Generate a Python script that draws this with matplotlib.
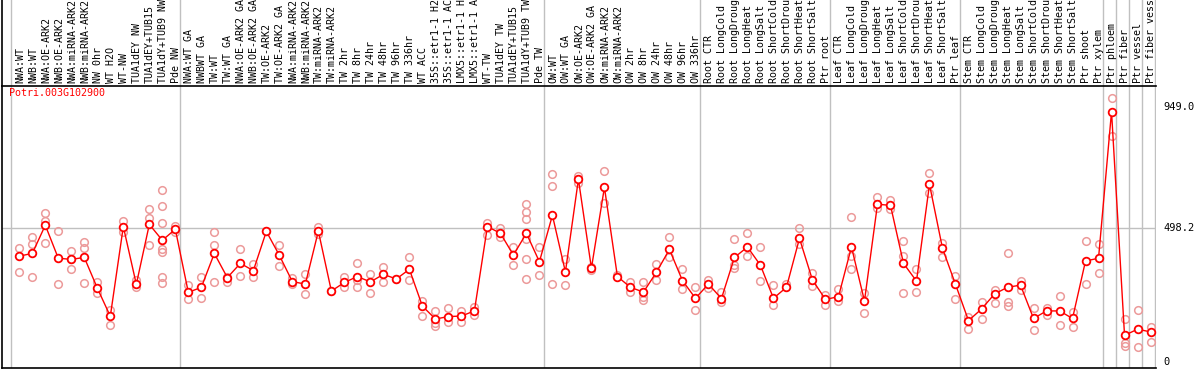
import numpy as np
import matplotlib.pyplot as plt

# column labels (as visible in the header)
labels = [
    "NWA:WT", "NWB:WT", "NWA:OE-ARK2", "NWB:OE-ARK2", "NWA:miRNA-ARK2", "NWB:miRNA-ARK2",
    "NW 0hr", "WT H2O", "WT-NW", "TUA1dEY NW", "TUA1dEY+TUB15", "TUA1dY+TUB9 NW", "Pde NW",
    "NWA:WT GA", "NWBWT GA", "TW:WT", "TW:WT GA", "NWA:OE-ARK2 GA", "NWB:OE-ARK2 GA",
    "TW:OE-ARK2", "TW:OE-ARK2 GA", "NWA:miRNA-ARK2", "NWB:miRNA-ARK2", "TW:miRNA-ARK2",
    "TW:miRNA-ARK2", "TW 2hr", "TW 8hr", "TW 24hr", "TW 48hr", "TW 96hr", "TW 336hr",
    "WT ACC", "35S::etr1-1 H2", "35S::etr1-1 AC", "LMX5::etr1-1 H", "LMX5::etr1-1 A",
    "WT-TW", "TUA1dEY TW", "TUA1dEY+TUB15", "TUA1dY+TUB9 TW", "Pde TW",
    "OW:WT", "OW:WT GA", "OW:OE-ARK2", "OW:OE-ARK2 GA", "OW:miRNA-ARK2", "OW:miRNA-ARK2",
    "OW 2hr", "OW 8hr", "OW 24hr", "OW 48hr", "OW 96hr", "OW 336hr",
    "Root CTR", "Root LongCold", "Root LongDroug", "Root LongHeat", "Root LongSalt",
    "Root ShortCold", "Root ShortDrou", "Root ShortHeat", "Root ShortSalt", "Ptr root",
    "Leaf CTR", "Leaf LongCold", "Leaf LongDroug", "Leaf LongHeat", "Leaf LongSalt",
    "Leaf ShortCold", "Leaf ShortDrou", "Leaf ShortHeat", "Leaf ShortSalt", "Ptr leaf",
    "Stem CTR", "Stem LongCold", "Stem LongDroug", "Stem LongHeat", "Stem LongSalt",
    "Stem ShortCold", "Stem ShortDrou", "Stem ShortHeat", "Stem ShortSalt", "Ptr shoot",
    "Ptr xylem", "Ptr phloem", "Ptr fiber", "Ptr vessel", "Ptr fiber vess",
]

# mean expression per sample
means = [
    393, 403, 508, 385, 381, 388, 274, 169, 503, 288, 511, 452, 493,
    258, 277, 403, 313, 366, 339, 485, 396, 298, 289, 486, 263, 295, 317, 297, 325, 308,
    344, 207, 159, 168, 170, 189, 503, 478, 397, 478, 372,
    545, 334, 679, 348, 649, 317, 277, 259, 333, 418, 302, 236,
    289, 235, 388, 427, 359, 236, 277, 459, 304, 232,
    242, 427, 226, 586, 582, 366, 300, 660, 422, 288,
    153, 196, 252, 277, 285, 161, 189, 189, 161, 375, 385,
    931, 98, 121, 111,
]

# replicate values per sample
reps = [
    [422, 334], [464, 438, 314], [553, 525, 441], [487, 289], [411, 381, 344], [446, 422, 292],
    [295, 254], [192, 135], [524, 484], [304, 279], [568, 536, 433],
    [639, 579, 515, 418, 410, 317, 292], [506, 484],
    [285, 232], [314, 236], [481, 434, 295], [317, 298], [419, 319], [364, 314],
    [488], [434, 356], [310, 288], [326, 251], [503, 474], [263], [317, 279],
    [366, 304, 277], [326, 254], [351, 298], [308], [389, 304], [227, 171],
    [189, 143, 133], [199, 149], [189, 149], [205, 174], [517, 472], [496, 465],
    [428, 360], [586, 557, 532, 455, 381, 307], [426, 322],
    [699, 655, 288], [382, 284], [691, 666], [354, 341], [709, 589], [323],
    [297, 259], [297, 242, 230], [364, 304], [464, 389], [344, 269], [277, 192],
    [304, 273], [261, 223], [455, 360, 348], [478, 395], [426, 300], [284, 211],
    [289], [498, 438], [329, 282], [250, 210],
    [269, 227], [538, 395, 344], [254, 180], [612, 571], [602, 570], [449, 395, 257],
    [344, 258], [701, 627], [443, 389], [320, 232],
    [168, 121], [221, 158], [267, 217], [403, 223, 207], [300, 267], [199, 118],
    [199, 174], [245, 135], [184, 128], [449, 288], [438, 329],
    [980, 840], [158, 68, 58], [191, 55], [130, 75],
]

group_starts = [0, 13, 41, 53, 63, 73, 84, 85, 86, 87]
ytick_vals = [0, 498.2, 949.0]
ytick_text = ["0", "498.2", "949.0"]
gene = "Potri.003G102900"

W, H = 1194, 370
fig = plt.figure(figsize=(W / 100, H / 100), dpi=100)
mono = "DejaVu Sans Mono"
grid_c = "#c0c0c0"

x0, x1 = -1.33, 87.42
y0, y1 = -23.4, 1028

left, right = 2 / W, 1156 / W
ax = fig.add_axes([left, 2 / H, right - left, (368 - 85.5) / H])
head = fig.add_axes([left, (H - 85.5) / H, right - left, 85.5 / H])

x = np.arange(len(means))
for a in (ax, head):
    a.set_xlim(x0, x1)
    a.set_xticks([])
    a.set_yticks([])
    for g in group_starts:
        a.axvline(g - 0.65, color=grid_c, lw=1, zorder=0)
    a.axvline(x1 - 0.05, color=grid_c, lw=1, zorder=0)
    for s in ("top", "right"):
        a.spines[s].set_visible(False)
    for s in ("left", "bottom"):
        a.spines[s].set_color("black")
        a.spines[s].set_linewidth(1.2)

ax.set_ylim(y0, y1)
ax.axhline(498.2, color=grid_c, lw=1, zorder=0)

# replicates
for i, r in enumerate(reps):
    ax.plot([i] * len(r), r, "o", ms=5.5, mfc="none", mec="#ec9a9a", mew=1.1, zorder=2)

# means
ax.plot(x, means, "-", color="red", lw=1, zorder=3)
ax.plot(x, means, "o", ms=5.5, mfc="white", mec="red", mew=1.3, zorder=4)

ax.text(-0.78, 1000, gene, color="red", fontsize=7.2, family=mono, va="center", ha="left")

# value labels on the right
for v, t in zip(ytick_vals, ytick_text):
    ax.annotate(t, xy=(1, v), xycoords=("axes fraction", "data"), xytext=(5, 0),
                textcoords="offset points", fontsize=7.5, family=mono, va="center", ha="left",
                annotation_clip=False)

# sample names in the header
head.set_ylim(0, 85.5)
for i, lab in enumerate(labels):
    head.text(i + 0.05, 2.5, lab, rotation=90, fontsize=7.2, family=mono, ha="center",
              va="bottom", clip_on=False)

fig.savefig("out.png", dpi=100)
